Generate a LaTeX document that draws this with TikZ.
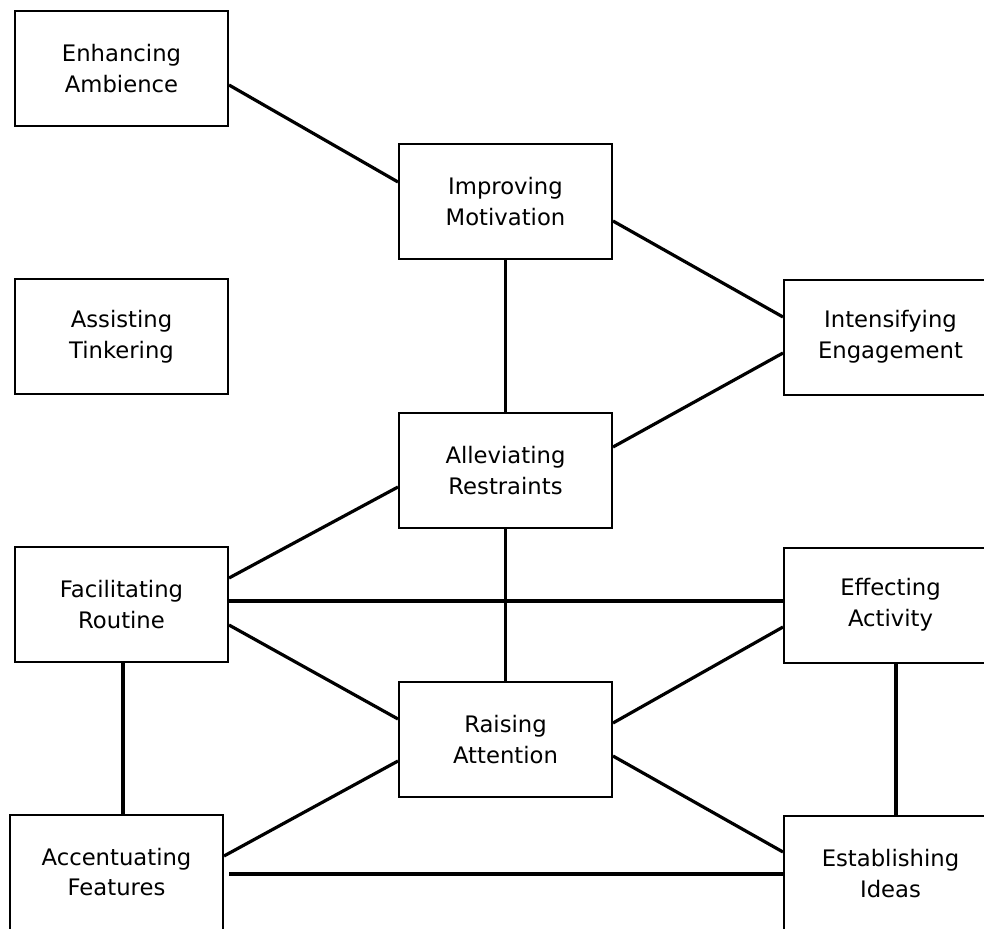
\documentclass[tikz,border=0pt]{standalone}
\usepackage{fontspec}
\setmainfont{DejaVu Sans}
\usepackage{tikz}
\usetikzlibrary{calc}
\tikzset{
	blk/.style ={rectangle, draw=black, line width=1bp, minimum width=106.5bp, minimum height=57.5bp, align=center, inner sep=0pt, fill=white},
	link/.style={line width=1.6bp, line cap=butt},
}

\begin{document}
\begin{tikzpicture}[x=0.5bp, y=-0.5bp, font=\fontsize{11.4}{15.5}\selectfont]
	\useasboundingbox (0,0) rectangle (984,929);
	\clip (0,0) rectangle (984,929);
	% boxes
	\node[blk] (ea) at (121.5,68.5) {Enhancing\\Ambience};
	\node[blk] (im) at (505.5,201.5) {Improving\\Motivation};
	\node[blk] (at) at (121.5,336.5) {Assisting\\Tinkering};
	\node[blk] (ie) at (890.5,337) {Intensifying\\Engagement};
	\node[blk] (ar) at (505.5,470.5) {Alleviating\\Restraints};
	\node[blk] (fr) at (121.5,604.5) {Facilitating\\Routine};
	\node[blk] (ef) at (890.5,605) {Effecting\\Activity};
	\node[blk] (ra) at (505.5,739.5) {Raising\\Attention};
	\node[blk] (af) at (116.5,872) {Accentuating\\Features};
	\node[blk] (ei) at (890.5,873.5) {Establishing\\Ideas};
	% links
	\draw[link] ($(ea.east)+(0,16.5)$) -- ($(im.west)+(0,-19.5)$);
	\draw[link] ($(im.east)+(0,19.5)$) -- ($(ie.west)+(0,-20)$);
	\draw[link] (im.south) -- (ar.north);
	\draw[link] ($(ar.east)+(0,-23.5)$) -- ($(ie.west)+(0,16)$);
	\draw[link] ($(ar.west)+(0,16.5)$) -- ($(fr.east)+(0,-26.5)$);
	\draw[link] (ar.south) -- (ra.north);
	\draw[link] ($(fr.east)+(0,-3.5)$) -- ($(ef.west)+(0,-4)$);
	\draw[link] ($(fr.east)+(0,20.5)$) -- ($(ra.west)+(0,-20.5)$);
	\draw[link] ($(ra.east)+(0,-16.5)$) -- ($(ef.west)+(0,22)$);
	\draw[link] ($(fr.south)+(1.5,0)$) -- ($(af.north)+(6.5,0)$);
	\draw[link] ($(ra.west)+(0,21.5)$) -- ($(af.east)+(0,-16)$);
	\draw[link] ($(ra.east)+(0,16.5)$) -- ($(ei.west)+(0,-21.5)$);
	\draw[link] ($(af.east)+(5,2)$) -- ($(ei.west)+(0,0.5)$);
	\draw[link] ($(ef.south)+(5.5,0)$) -- ($(ei.north)+(5.5,0)$);
\end{tikzpicture}
\end{document}
